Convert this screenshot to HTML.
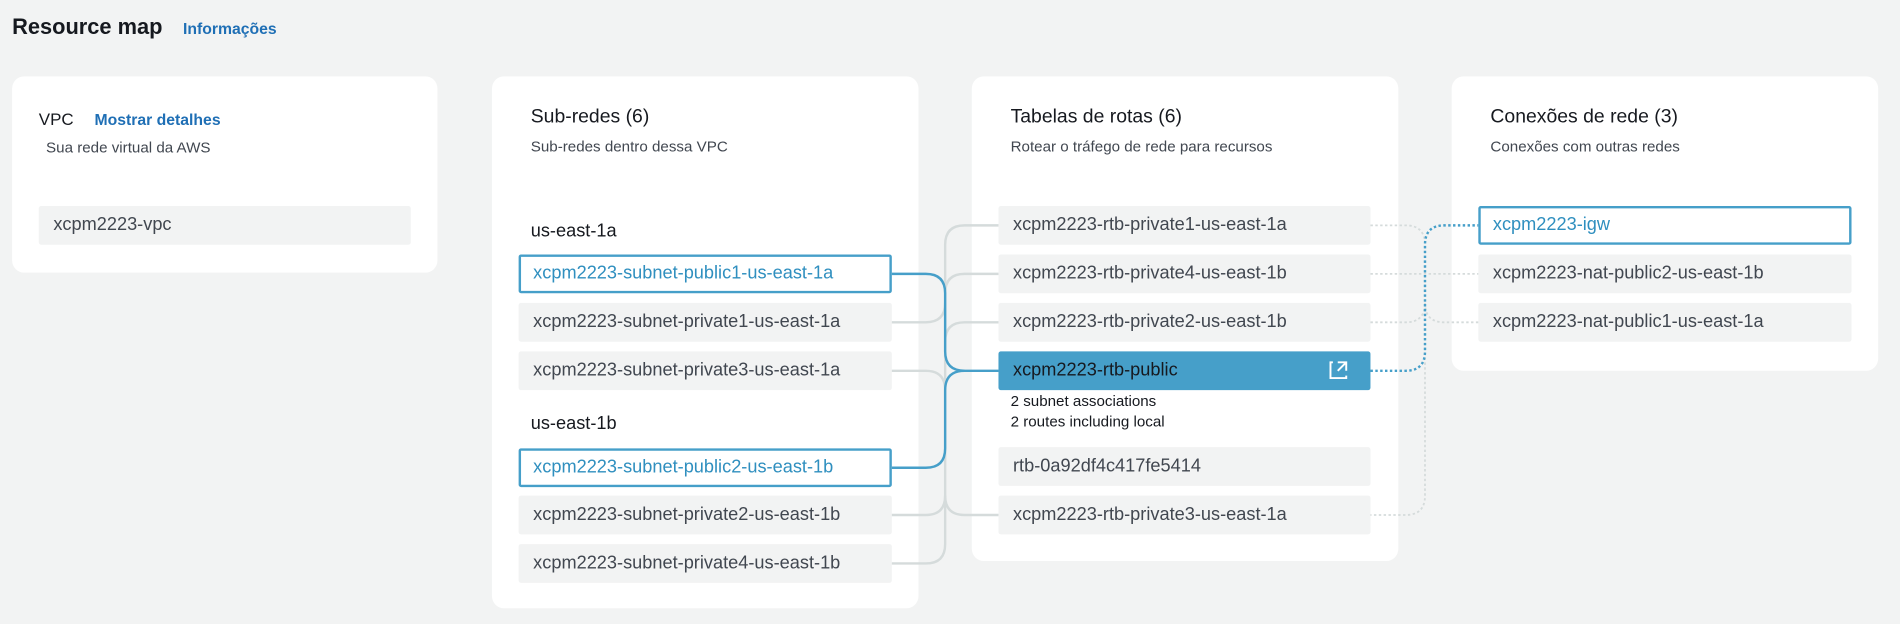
<!DOCTYPE html>
<html><head><meta charset="utf-8"><style>
html,body{margin:0;padding:0;background:#f2f3f3;width:1900px;height:624px;overflow:hidden}
#w{position:absolute;left:0;top:0;width:1568px;height:515px;transform:scale(1.21173);transform-origin:0 0;font-family:"Liberation Sans",sans-serif;color:#16191f}
.card{position:absolute;background:#fff;border-radius:10px}
.t{position:absolute;white-space:nowrap}
.it{position:absolute;background:#f2f3f3;border-radius:2px;height:32px;line-height:32px;box-sizing:border-box;padding-left:12px;font-size:15px;color:#414750;white-space:nowrap}
.sel{background:#fff;border:2px solid #469fc9;color:#2f8fbf;padding-left:10px;line-height:28px}
.pub{background:#469fc9;color:#16191f}
.h{font-size:16px}.s{font-size:12.5px;color:#414750}
</style></head><body><div id="w">
<div class="t" style="left:10px;top:12px;font-size:18px;font-weight:bold">Resource map</div>
<div class="t" style="left:151px;top:16px;font-size:13px;font-weight:bold;color:#1f6fb5">Informações</div>

<div class="card" style="left:10px;top:63px;width:351px;height:162px"></div>
<div class="t" style="left:32px;top:90px;font-size:14px">VPC</div>
<div class="t" style="left:78px;top:91px;font-size:13px;font-weight:bold;color:#1f6fb5">Mostrar detalhes</div>
<div class="t s" style="left:38px;top:115px">Sua rede virtual da AWS</div>
<div class="it" style="left:32px;top:170px;width:307px">xcpm2223-vpc</div>

<div class="card" style="left:406px;top:63px;width:352px;height:439px"></div>
<div class="t h" style="left:438px;top:88px">Sub-redes (6)</div>
<div class="t s" style="left:438px;top:114px">Sub-redes dentro dessa VPC</div>
<div class="t" style="left:438px;top:182px;font-size:15px">us-east-1a</div>
<div class="it sel" style="left:428px;top:210px;width:308px">xcpm2223-subnet-public1-us-east-1a</div>
<div class="it" style="left:428px;top:250px;width:308px">xcpm2223-subnet-private1-us-east-1a</div>
<div class="it" style="left:428px;top:290px;width:308px">xcpm2223-subnet-private3-us-east-1a</div>
<div class="t" style="left:438px;top:341px;font-size:15px">us-east-1b</div>
<div class="it sel" style="left:428px;top:370px;width:308px">xcpm2223-subnet-public2-us-east-1b</div>
<div class="it" style="left:428px;top:409px;width:308px">xcpm2223-subnet-private2-us-east-1b</div>
<div class="it" style="left:428px;top:449px;width:308px">xcpm2223-subnet-private4-us-east-1b</div>

<div class="card" style="left:802px;top:63px;width:352px;height:400px"></div>
<div class="t h" style="left:834px;top:88px">Tabelas de rotas (6)</div>
<div class="t s" style="left:834px;top:114px">Rotear o tráfego de rede para recursos</div>
<div class="it" style="left:824px;top:170px;width:307px">xcpm2223-rtb-private1-us-east-1a</div>
<div class="it" style="left:824px;top:210px;width:307px">xcpm2223-rtb-private4-us-east-1b</div>
<div class="it" style="left:824px;top:250px;width:307px">xcpm2223-rtb-private2-us-east-1b</div>
<div class="it pub" style="left:824px;top:290px;width:307px">xcpm2223-rtb-public</div>
<div class="t s" style="left:834px;top:323px;line-height:17px;color:#16191f">2 subnet associations<br>2 routes including local</div>
<div class="it" style="left:824px;top:369px;width:307px">rtb-0a92df4c417fe5414</div>
<div class="it" style="left:824px;top:409px;width:307px">xcpm2223-rtb-private3-us-east-1a</div>

<div class="card" style="left:1198px;top:63px;width:352px;height:243px"></div>
<div class="t h" style="left:1230px;top:88px">Conexões de rede (3)</div>
<div class="t s" style="left:1230px;top:114px">Conexões com outras redes</div>
<div class="it sel" style="left:1220px;top:170px;width:308px">xcpm2223-igw</div>
<div class="it" style="left:1220px;top:210px;width:308px">xcpm2223-nat-public2-us-east-1b</div>
<div class="it" style="left:1220px;top:250px;width:308px">xcpm2223-nat-public1-us-east-1a</div>

<svg style="position:absolute;left:0;top:0" width="1568" height="515" fill="none">
<g stroke="#d5dbdb" stroke-width="2">
<path d="M824,186H796Q780,186 780,202V449Q780,465 764,465H736"/>
<path d="M824,226H796Q780,226 780,242"/>
<path d="M824,266H796Q780,266 780,282"/>
<path d="M824,425H796Q780,425 780,409"/>
<path d="M736,266H764Q780,266 780,250"/>
<path d="M736,306H764Q780,306 780,322"/>
<path d="M736,425H764Q780,425 780,409"/>
</g>
<g stroke="#469fc9" stroke-width="2">
<path d="M736,226H764Q780,226 780,242V290Q780,306 796,306H824"/>
<path d="M736,386H764Q780,386 780,370V322Q780,306 796,306"/>
</g>
<g stroke="#d5dbdb" stroke-width="1.5" stroke-dasharray="2 2">
<path d="M1131,186H1160Q1176,186 1176,202V409Q1176,425 1160,425H1131"/>
<path d="M1131,226H1220"/>
<path d="M1131,266H1160Q1176,266 1176,250"/>
<path d="M1220,266H1192Q1176,266 1176,250"/>
</g>
<path d="M1131,306H1160Q1176,306 1176,290V202Q1176,186 1192,186H1220" stroke="#469fc9" stroke-width="2" stroke-dasharray="2 2"/>
<g stroke="#fff" stroke-width="1.6">
<path d="M1100,299h-2v13h13v-2"/><path d="M1104,299h7v7M1111,299l-7,7"/>
</g>
</svg>
</div></body></html>
